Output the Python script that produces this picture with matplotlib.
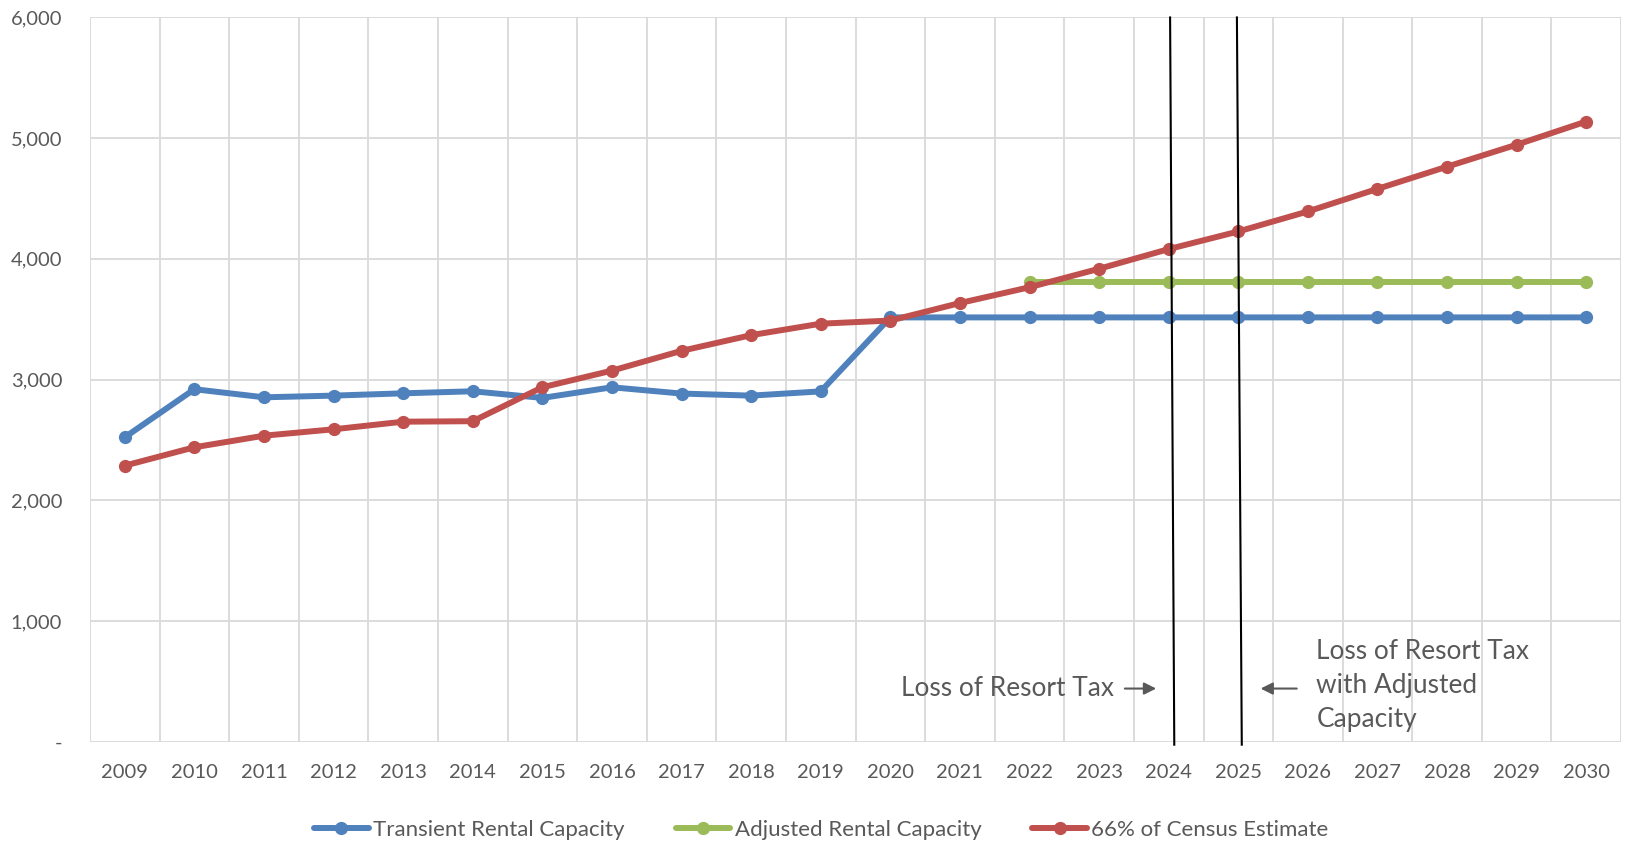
import numpy as np
import matplotlib
matplotlib.use("Agg")
import matplotlib.pyplot as plt
from matplotlib.ticker import FuncFormatter

plt.rcParams['font.family'] = ['Lato', 'DejaVu Sans']

years = list(range(2009, 2031))
transient = [2522, 2920, 2853, 2867, 2886, 2903, 2848, 2936, 2884, 2867, 2902,
             3515, 3515, 3515, 3515, 3515, 3515, 3515, 3515, 3515, 3515, 3515]
adjusted = [None] * 13 + [3812] * 9
census66 = [2287, 2439, 2535, 2588, 2651, 2655, 2936, 3074, 3238, 3368, 3463,
            3489, 3634, 3765, 3918, 4081, 4227, 4393, 4580, 4764, 4946, 5138]

# the two hand-drawn marker lines (category index at top / bottom)
event_lines = [(15.02, 15.08), (15.98, 16.05)]

blue = '#4F81BD'
green = '#9BBB59'
red = '#C0504D'
gray = '#595959'

fig = plt.figure(figsize=(16.33, 8.52), dpi=100)
ax = fig.add_axes([0.0551, 0.1295, 0.9376, 0.85])

x = np.arange(len(years))
adj = np.array([np.nan if v is None else v for v in adjusted], dtype=float)

kw = dict(lw=4.3, marker='o', ms=8.5, solid_capstyle='round', zorder=3)
ax.plot(x, transient, color=blue, label='Transient Rental Capacity', **kw)
ax.plot(x, adj, color=green, label='Adjusted Rental Capacity', **kw)
ax.plot(x, census66, color=red, label='66% of Census Estimate', **kw)

for top, bot in event_lines:
    ax.plot([top, bot], [6000, -25], color='black', lw=1.5, zorder=4, clip_on=False)

ax.set_xlim(-0.5, len(years) - 0.5)
ax.set_ylim(0, 6000)
ax.set_xticks(x)
ax.set_xticklabels([str(y) for y in years])
ax.set_yticks(np.arange(0, 6001, 1000))
ax.yaxis.set_major_formatter(FuncFormatter(lambda v, p: '-' if v == 0 else f'{int(v):,}'))

ax.grid(False)
for xm in np.arange(-0.5, len(years)):
    ax.axvline(xm, color='#d9d9d9', lw=1.3, zorder=1)
for ym in np.arange(0, 6001, 1000):
    ax.axhline(ym, color='#d9d9d9', lw=1.3, zorder=1)
for s in ax.spines.values():
    s.set_visible(False)

ax.tick_params(axis='both', which='both', length=0, colors=gray, labelsize=14.5)
ax.tick_params(axis='x', pad=16)
ax.tick_params(axis='y', pad=20)

arrow = dict(arrowstyle='-|>', color=gray, lw=1.5, mutation_scale=18, shrinkA=0, shrinkB=0)
ax.text(14.22, 440, 'Loss of Resort Tax', ha='right', va='center', fontsize=18.9, color=gray)
ax.annotate('', xy=(14.82, 440), xytext=(14.37, 440), arrowprops=arrow)
ax.annotate('', xy=(16.32, 440), xytext=(16.84, 440), arrowprops=arrow)
ax.text(17.12, 465, 'Loss of Resort Tax\nwith Adjusted\nCapacity', ha='left', va='center',
        fontsize=18.9, color=gray, linespacing=1.45)

leg = fig.legend(loc='center', bbox_to_anchor=(0.503, 0.026), ncol=3, frameon=False,
                 fontsize=16, handlelength=2.45, columnspacing=2.3, handletextpad=0.2)
for t in leg.get_texts():
    t.set_color(gray)

fig.savefig('out.png', dpi=100)
